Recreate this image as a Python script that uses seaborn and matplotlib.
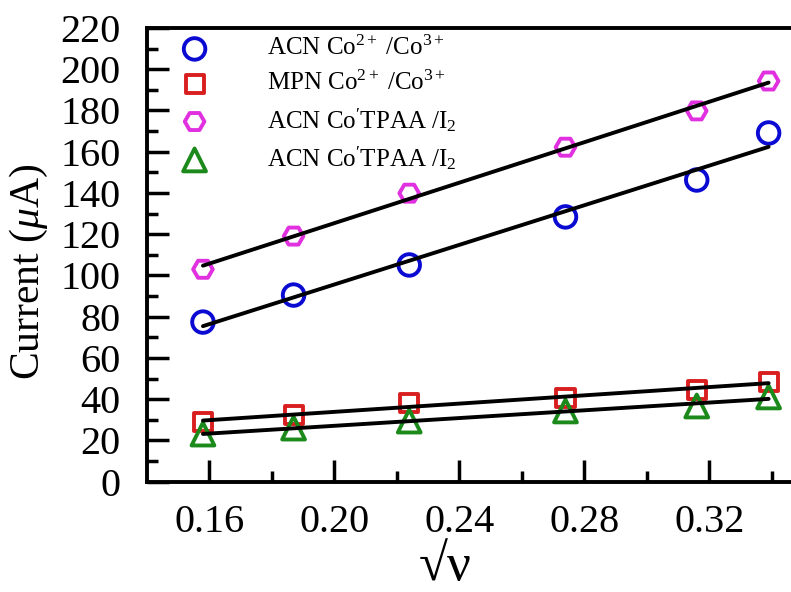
import numpy as np
import pandas as pd
import matplotlib
matplotlib.use("Agg")
import matplotlib.pyplot as plt
import seaborn as sns

# ---- data ----
sqrt_v = [0.158, 0.187, 0.224, 0.274, 0.316, 0.339]
acn_co = [77.4, 90.5, 105.1, 128.4, 146.3, 169.1]
mpn_co = [29.0, 32.3, 38.2, 40.6, 44.5, 48.4]
acn_tpaa_1 = [103.0, 119.1, 139.9, 162.2, 179.8, 194.3]
acn_tpaa_2 = [23.1, 26.0, 29.4, 34.3, 36.7, 41.1]

labels = ["ACN Co$^{2+}$ /Co$^{3+}$", "MPN Co$^{2+}$ /Co$^{3+}$",
          "ACN Co$^{\\prime}$TPAA /I$_2$", "ACN Co$^{\\prime}$TPAA /I$_2$"]
y_ticks = list(range(0, 221, 20))
x_ticks = [0.16, 0.20, 0.24, 0.28, 0.32]
x_tick_labels = ["0.16", "0.20", "0.24", "0.28", "0.32"]

sns.set_style("ticks")
plt.rcParams["font.family"] = ["Liberation Serif", "DejaVu Serif"]
plt.rcParams["mathtext.fontset"] = "custom"
plt.rcParams["mathtext.rm"] = "Liberation Serif"
plt.rcParams["mathtext.it"] = "Liberation Serif:italic"
plt.rcParams["mathtext.bf"] = "Liberation Serif:bold"
for k in ["text.color", "axes.labelcolor", "xtick.color", "ytick.color", "axes.edgecolor"]:
    plt.rcParams[k] = "black"

fig = plt.figure(figsize=(7.91, 5.92), dpi=100)
ax = fig.add_axes([146.7 / 791, (592 - 481.7) / 592, 656.3 / 791, 453.7 / 592])

series = [
    (acn_co, labels[0], "o", "#0A0AD2", 240),
    (mpn_co, labels[1], "s", "#D81E1E", 170),
    (acn_tpaa_1, labels[2], "H", "#E030E0", 200),
    (acn_tpaa_2, labels[3], "^", "#1B8A1B", 270),
]
for ys, lab, mk, col, s in series:
    sns.scatterplot(x=sqrt_v, y=ys, ax=ax, marker=mk, s=s, facecolor="none",
                    edgecolor=col, linewidth=2.8, label=lab, zorder=3)
for ys, lab, mk, col, s in series:
    sns.regplot(x=np.array(sqrt_v), y=np.array(ys), ax=ax, scatter=False, ci=None,
                color="black", line_kws={"lw": 2.8, "zorder": 4})

ax.set_xlim(0.14, 0.35)
ax.set_ylim(0, 220)
ax.set_yticks(y_ticks)
ax.set_yticks(range(10, 220, 20), minor=True)
ax.set_xticks(x_ticks)
ax.set_xticklabels(x_tick_labels)
ax.set_xticks([0.18, 0.22, 0.26, 0.30, 0.34], minor=True)
ax.tick_params(axis="both", which="major", direction="in", length=16, width=2.5,
               labelsize=29, pad=19, colors="black")
ax.tick_params(axis="both", which="minor", direction="in", length=8, width=2.5)
ax.tick_params(axis="x", which="major", pad=16)
for sp in ["left", "bottom", "top"]:
    ax.spines[sp].set_linewidth(2.8)
ax.spines["right"].set_visible(False)

ax.set_ylabel("Current ($\\mathit{\\mu}$A)", fontsize=30)
ax.yaxis.set_label_coords((50 - 146.7) / 656.3, (481.7 - 272) / 453.7)
ax.set_xlabel("\u221a\u03bd", fontsize=38)
ax.xaxis.set_label_coords((445 - 146.7) / 656.3, (481.7 - 543) / 453.7)

leg = ax.legend(loc="upper left", bbox_to_anchor=(0.012, 1.015), frameon=False,
                fontsize=18, handletextpad=1.9, labelspacing=0.42, borderaxespad=0.2)

fig.savefig("out.png", dpi=100)
